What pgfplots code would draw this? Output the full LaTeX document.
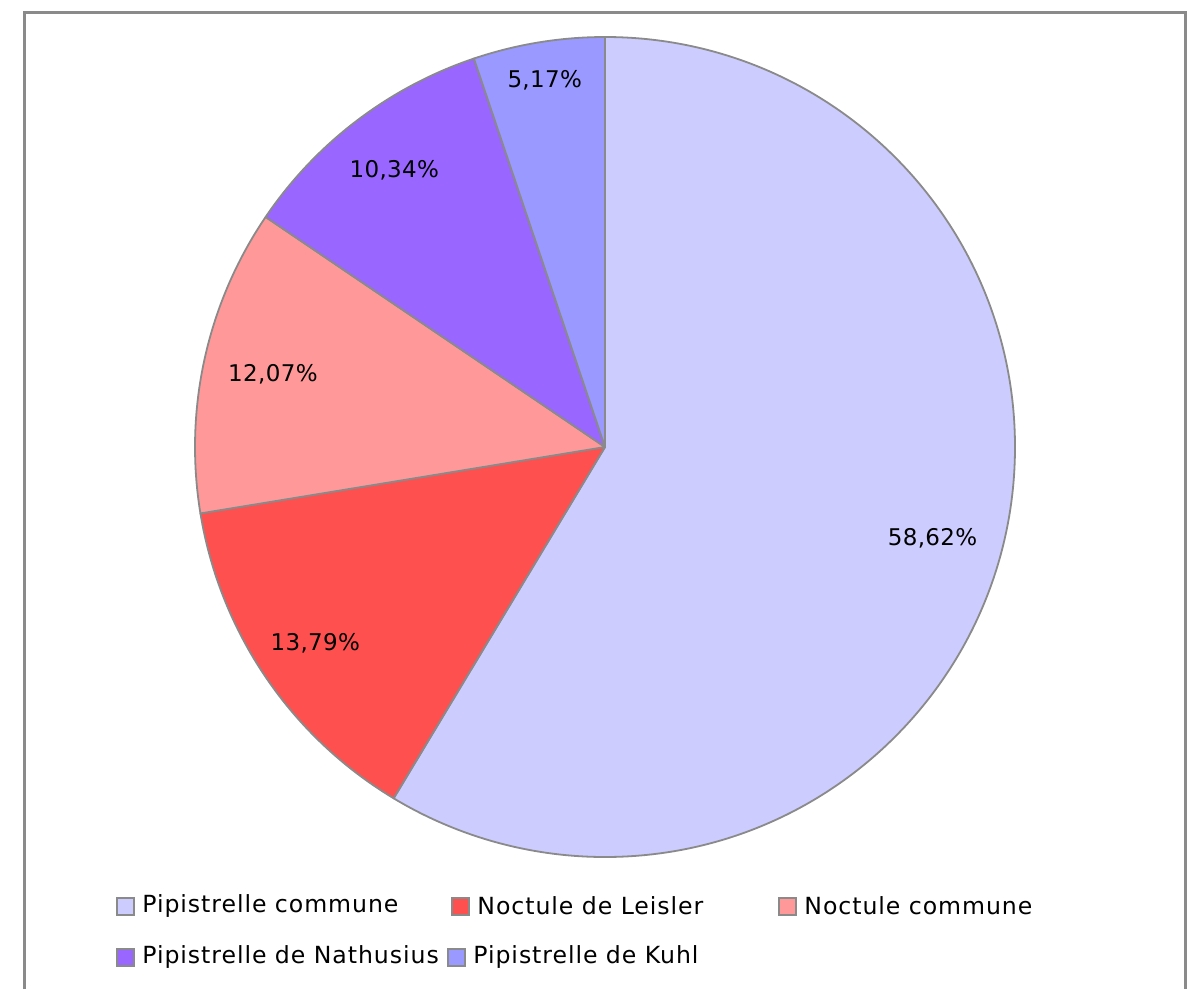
\documentclass[border=0pt]{standalone}
\usepackage{fontspec}
\setmainfont{DejaVu Sans}
\newfontfamily\legfont[LetterSpace=4]{DejaVu Sans}
\newfontfamily\labfont[LetterSpace=1.5]{DejaVu Sans}
\usepackage{pgfplots}
\pgfplotsset{compat=1.18}
\definecolor{cA}{HTML}{CCCCFF}
\definecolor{cB}{HTML}{FF5050}
\definecolor{cC}{HTML}{FF9999}
\definecolor{cD}{HTML}{9966FF}
\definecolor{cE}{HTML}{9999FF}
\definecolor{edge}{HTML}{8A8A8A}
% slice: #1 cumulative start (%), #2 value (%), #3 colour
\newcommand\slice[3]{%
  \filldraw[fill=#3, draw=edge, line width=0.9pt, line join=round]
    (axis cs:605,447) -- ++({90-3.6*(#1)}:205pt)
    arc[start angle={90-3.6*(#1)}, end angle={90-3.6*(#1+#2)}, radius=205pt] -- cycle;}
% label: #1 cumulative start, #2 value, #3 radius (pt), #4 text
\newcommand\slicelabel[4]{%
  \path (axis cs:605,447) ++({90-3.6*(#1+#2/2)}:#3) node[font=\labfont\fontsize{11.5}{13}\selectfont] {#4};}
\newcommand\legitem[4]{%
  \filldraw[fill=#3, draw=edge, line width=1pt] (axis cs:#1-9,#2-8.5) rectangle (axis cs:#1+8,#2+8.5);
  \node[anchor=west, inner sep=0pt, font=\legfont\fontsize{11.8}{14}\selectfont] at (axis cs:#1+16,#2) {#4};}
\begin{document}
\begin{tikzpicture}
\begin{axis}[scale only axis, width=594.5pt, height=494.5pt,
  xmin=0, xmax=1189, ymin=0, ymax=989, y dir=reverse, hide axis, clip=false]
\fill[white] (axis cs:0,0) rectangle (axis cs:1189,989);
\draw[edge, line width=1.5pt] (axis cs:24,989) -- (axis cs:24,12) -- (axis cs:1185,12) -- (axis cs:1185,989);
\slice{0}{58.62}{cA}
\slice{58.62}{13.79}{cB}
\slice{72.41}{12.07}{cC}
\slice{84.48}{10.34}{cD}
\slice{94.82}{5.18}{cE}
\slicelabel{0}{58.62}{170pt}{58,62\%}
\slicelabel{58.62}{13.79}{175pt}{13,79\%}
\slicelabel{72.41}{12.07}{170pt}{12,07\%}
\slicelabel{84.48}{10.34}{174pt}{10,34\%}
\slicelabel{94.82}{5.18}{186pt}{5,17\%}
\legitem{126}{906}{cA}{Pipistrelle commune}
\legitem{461}{906}{cB}{Noctule de Leisler}
\legitem{788}{906}{cC}{Noctule commune}
\legitem{126}{957}{cD}{Pipistrelle de Nathusius}
\legitem{457}{957}{cE}{Pipistrelle de Kuhl}
\end{axis}
\end{tikzpicture}
\end{document}
